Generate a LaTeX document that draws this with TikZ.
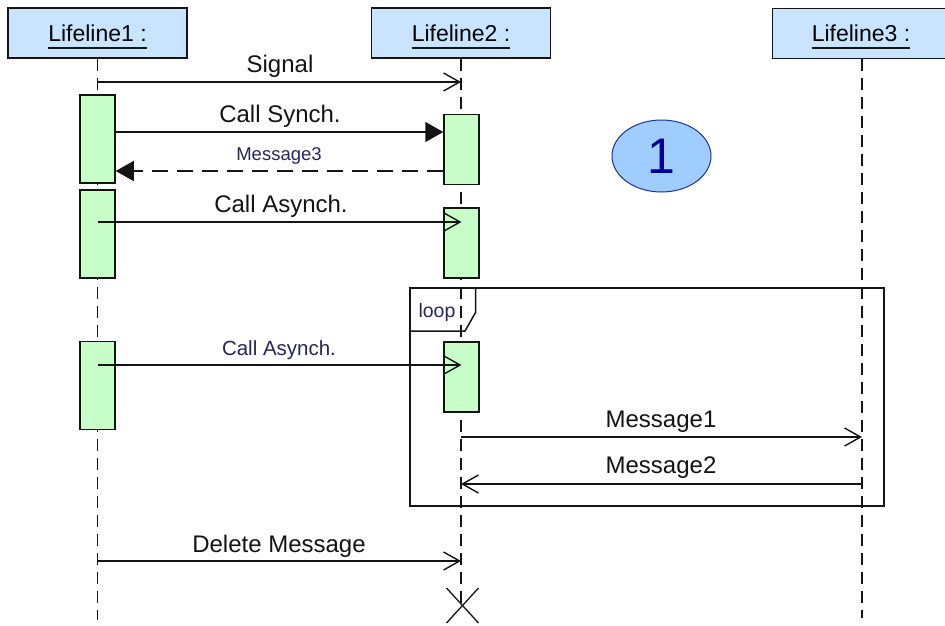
\documentclass[tikz,border=0pt]{standalone}
\usepackage{fontspec}
\setmainfont{Liberation Sans}
\usetikzlibrary{arrows.meta,shapes.geometric}
\definecolor{headfill}{RGB}{200,228,255}
\definecolor{actfill}{RGB}{200,255,200}
\definecolor{ellfill}{RGB}{160,205,255}
\definecolor{ellline}{RGB}{30,50,160}
\definecolor{numcol}{RGB}{0,0,150}
\definecolor{smalltxt}{RGB}{38,38,95}
\definecolor{linecol}{RGB}{20,20,20}
\tikzset{
  head/.style={draw=linecol, fill=headfill, line width=1.5pt, minimum width=179pt, minimum height=50pt, inner sep=0pt},
  hlabel/.style={inner sep=0pt, anchor=base, font=\fontsize{23}{23}\selectfont},
  lifeline/.style={draw=linecol, line width=1.4pt, dash pattern=on 12pt off 7pt},
  actbox/.style={draw=linecol, fill=actfill, line width=1.5pt, minimum width=35pt, inner sep=0pt},
  mlabel/.style={inner sep=0pt, anchor=base, font=\fontsize{24}{24}\selectfont, text=linecol},
  slabel/.style={inner sep=0pt, anchor=base, font=\fontsize{19.5}{19.5}\selectfont, text=smalltxt},
  msgopen/.style={draw=linecol, line width=1.5pt, -{Straight Barb[length=16pt,width=18pt,line width=1.4pt]}},
  msgsyn/.style={draw=linecol, line width=1.5pt, -{Triangle[length=18pt,width=20pt]}},
  msgret/.style={draw=linecol, line width=1.5pt, dash pattern=on 16pt off 9pt, -{Triangle[length=18pt,width=20pt]}},
  frame/.style={draw=linecol, line width=1.5pt, inner sep=0pt}
}
\begin{document}
\begin{tikzpicture}[x=1pt,y=-1pt]
\useasboundingbox (0,0) rectangle (945,625);
\fill[white] (0,0) rectangle (945,625);

% lifeline heads
\node[head] (h1) at (97.5,33) {};
\node[head] (h2) at (461,33) {};
\node[head] (h3) at (862,33.5) {};
\node[hlabel] (t1) at (97.5,41.7) {Lifeline1 :};
\node[hlabel] (t2) at (461,41.7) {Lifeline2 :};
\node[hlabel] (t3) at (861,41.7) {Lifeline3 :};
\foreach \t in {t1,t2,t3}{
  \draw[linecol, line width=1.6pt] ([yshift=-6pt]\t.base west) -- ([yshift=-6pt]\t.base east);
}

% lifelines
\draw[lifeline] (h1.south) -- (h1.south |- 0,620);
\draw[lifeline] (h2.south) -- (h2.south |- 0,605);
\draw[lifeline] (h3.south) -- (h3.south |- 0,618);

% loop frame
\node[frame, minimum width=474pt, minimum height=218pt] (loopf) at (647,397) {};
\draw[linecol, line width=1.5pt] (loopf.west |- 0,331) -- (465,331) -- (475.5,312.5) -- (475.5,288);
\node[slabel, anchor=base] (looplbl) at (437,317.7) {loop};

% activation boxes
\node[actbox, minimum height=88pt] (a1) at (97.5,139) {};
\node[actbox, minimum height=88pt] (a2) at (97.5,234) {};
\node[actbox, minimum height=88pt] (a3) at (97.5,385.5) {};
\node[actbox, minimum height=70pt] (b1) at (461.5,149.5) {};
\node[actbox, minimum height=70pt] (b2) at (461.5,243) {};
\node[actbox, minimum height=70pt] (b3) at (461.5,377) {};

% ellipse
\node[ellipse, draw=ellline, fill=ellfill, line width=1pt, minimum width=99pt, minimum height=72pt, inner sep=0pt,
      text=numcol, font=\fontsize{50}{50}\selectfont] (num) at (661.5,156) {1};

% messages
\draw[msgopen] (h1.south |- 0,82) -- (h2.south |- 0,82);
\node[mlabel] (lsig) at (280,72.7) {Signal};

\draw[msgsyn] (a1.east |- 0,132) -- (b1.west |- 0,132);
\node[mlabel] (lsyn) at (280,122.7) {Call Synch.};

\draw[msgret] (b1.west |- 0,171) -- (a1.east |- 0,171);
\node[slabel, font=\fontsize{18.5}{18.5}\selectfont] (lm3) at (279,160.7) {Message3};

\draw[msgopen] (a2.center |- 0,222) -- (b2.center |- 0,222);
\node[mlabel] (lasy) at (281,212) {Call Asynch.};

\draw[msgopen] (a3.center |- 0,365) -- (b3.center |- 0,365);
\node[slabel, font=\fontsize{20.5}{20.5}\selectfont] (lasy2) at (279,355) {Call Asynch.};

\draw[msgopen] (h2.south |- 0,437) -- (h3.south |- 0,437);
\node[mlabel] (lm1) at (661,427) {Message1};

\draw[msgopen] (h3.south |- 0,484) -- (h2.south |- 0,484);
\node[mlabel] (lm2) at (661,473) {Message2};

\draw[msgopen] (h1.south |- 0,561) -- (h2.south |- 0,561);
\node[mlabel] (ldel) at (279,552) {Delete Message};

% destruction mark
\coordinate (xend) at (462.5,605);
\draw[linecol, line width=1.3pt] ([shift={(-16,-17)}]xend) -- ([shift={(16,18)}]xend);
\draw[linecol, line width=1.3pt] ([shift={(16,-17)}]xend) -- ([shift={(-16,18)}]xend);
\end{tikzpicture}
\end{document}
